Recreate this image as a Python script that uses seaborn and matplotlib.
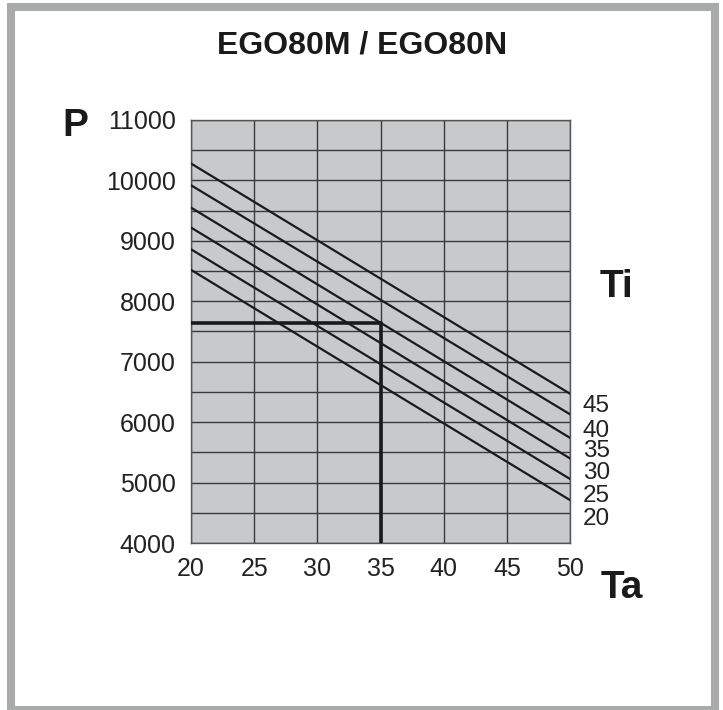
import pandas as pd
import matplotlib.pyplot as plt
import seaborn as sns
from matplotlib.patches import Rectangle

# Ti curves: P at Ta=20 and Ta=50
ta_points = [20, 50]
ti_levels = [45, 40, 35, 30, 25, 20]
p_at_20 = [10280, 9920, 9550, 9220, 8860, 8520]
p_at_50 = [6470, 6130, 5740, 5400, 5060, 4710]

# example reading
ref_ta = 35
ref_p = 7640

x_ticks = [20, 25, 30, 35, 40, 45, 50]
y_ticks = [4000, 5000, 6000, 7000, 8000, 9000, 10000, 11000]
y_minor = [4500, 5500, 6500, 7500, 8500, 9500, 10500]

rows = []
for ti, p0, p1 in zip(ti_levels, p_at_20, p_at_50):
    rows.append({'Ta': ta_points[0], 'P': p0, 'Ti': ti})
    rows.append({'Ta': ta_points[1], 'P': p1, 'Ti': ti})
df = pd.DataFrame(rows)

sns.set_style("white")
plt.rcParams['font.family'] = ['Liberation Sans', 'DejaVu Sans']

fig = plt.figure(figsize=(7.23, 7.10), dpi=100)
ax = fig.add_axes([0.2642, 0.2352, 0.5242, 0.5958])
ax.set_facecolor('#c8c9cb')

sns.lineplot(data=df, x='Ta', y='P', hue='Ti', palette={t: '#1a1a1a' for t in ti_levels},
             legend=False, linewidth=1.6, ax=ax, zorder=3)

# reference reading lines
ax.plot([ta_points[0], ref_ta], [ref_p, ref_p], color='#1a1a1a', lw=2.6, zorder=4)
ax.plot([ref_ta, ref_ta], [y_ticks[0], ref_p], color='#1a1a1a', lw=2.6, zorder=4)

ax.set_xlim(20, 50)
ax.set_ylim(4000, 11000)
ax.set_xticks(x_ticks)
ax.set_yticks(y_ticks)
ax.set_yticks(y_minor, minor=True)
ax.grid(True, which='both', color='#3a3a3a', linewidth=1.0, zorder=1)
ax.set_axisbelow(True)
for s in ax.spines.values():
    s.set_color('#555555')
    s.set_linewidth(1.0)
ax.tick_params(axis='both', which='both', length=0, labelsize=18, labelcolor='#222222')
ax.tick_params(axis='y', pad=11)
ax.tick_params(axis='x', pad=10)
ax.set_xlabel('')
ax.set_ylabel('')

# Ti labels on the right
label_y = [6265, 5850, 5520, 5155, 4775, 4395]
for ti, ly in zip(ti_levels, label_y):
    ax.text(51.0, ly, str(ti), fontsize=17.5, color='#222222', va='center', ha='left', clip_on=False)

fig.text(362 / 723, 1 - 46 / 710, 'EGO80M / EGO80N', fontsize=23, fontweight='bold',
         ha='center', va='center', color='#1a1a1a')
fig.text(75 / 723, 1 - 126 / 710, 'P', fontsize=28, fontweight='bold', ha='center', va='center', color='#1a1a1a')
fig.text(617 / 723, 1 - 287 / 710, 'Ti', fontsize=28, fontweight='bold', ha='center', va='center', color='#1a1a1a')
fig.text(622 / 723, 1 - 588 / 710, 'Ta', fontsize=28, fontweight='bold', ha='center', va='center', color='#1a1a1a')

# grey outer frame
fig.patches.append(Rectangle((11 / 723, 0), (715 - 11) / 723, 703 / 710, transform=fig.transFigure,
                             fill=False, edgecolor='#a9abaa', linewidth=5.8, zorder=0))

fig.savefig('out.png', dpi=100, facecolor='white')
